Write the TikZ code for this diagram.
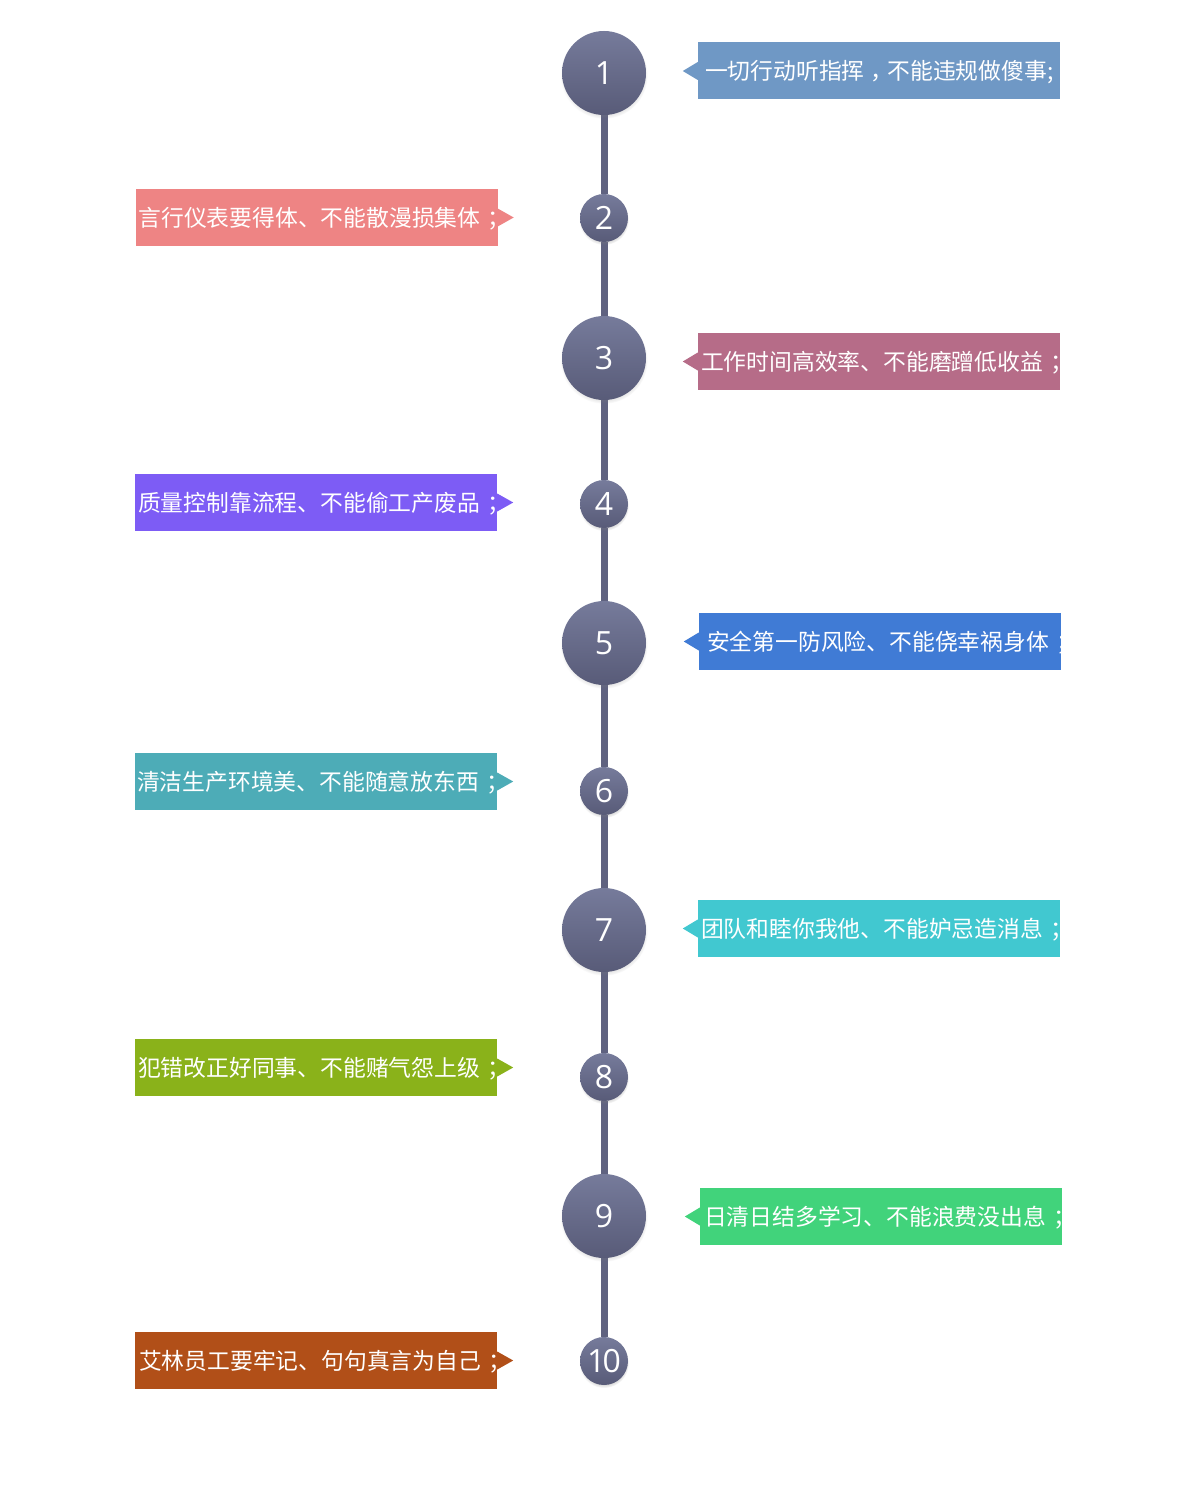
\documentclass[tikz,border=0pt]{standalone}
\usepackage{fontspec}
\newfontfamily\cjk{Noto Sans CJK SC}
\newfontfamily\numf{Open Sans}
\usetikzlibrary{shadows,calc}
\pgfdeclarelayer{bg}
\pgfsetlayers{bg,main}
\definecolor{k1}{HTML}{6F98C5}
\definecolor{k2}{HTML}{EE8484}
\definecolor{k3}{HTML}{B66C88}
\definecolor{k4}{HTML}{7D5CF5}
\definecolor{k5}{HTML}{407BD5}
\definecolor{k6}{HTML}{4DACB7}
\definecolor{k7}{HTML}{41C8D0}
\definecolor{k8}{HTML}{8AB21A}
\definecolor{k9}{HTML}{41D37B}
\definecolor{k10}{HTML}{B14F18}
\definecolor{cTop}{HTML}{767B9B}
\definecolor{cBot}{HTML}{585B78}
\definecolor{spinec}{HTML}{5F6280}
\newcommand{\mysemi}{\hspace{7pt}；}
\begin{document}
\begin{tikzpicture}[x=1pt,y=-1pt,
  numc/.style={circle, inner sep=0pt, draw=none, top color=cTop, bottom color=cBot,
    circular drop shadow={shadow xshift=0pt, shadow yshift=-2pt, opacity=0.3, shadow scale=1.04},
    text=white, font=\numf\fontsize{32}{36}\selectfont},
  bigc/.style={numc, minimum size=84pt},
  smallc/.style={numc, minimum size=48pt},
  rbox/.style={rectangle, draw=none, inner sep=0pt, minimum width=362pt, minimum height=57pt},
  btext/.style={anchor=west, inner sep=0pt, text=white, font=\cjk\fontsize{22.8}{26}\selectfont},
  spine/.style={draw=spinec, line width=7pt}
]
\begin{pgfonlayer}{bg}
\fill[white] (0,0) rectangle (1200,1498);
\end{pgfonlayer}
\useasboundingbox (0,0) rectangle (1200,1498);

% circles
\node[bigc]   (c1)  at (604,73)   {1};
\node[smallc] (c2)  at (604,218)  {2};
\node[bigc]   (c3)  at (604,358)  {3};
\node[smallc] (c4)  at (604,504)  {4};
\node[bigc]   (c5)  at (604,643)  {5};
\node[smallc] (c6)  at (604,791)  {6};
\node[bigc]   (c7)  at (604,930)  {7};
\node[smallc] (c8)  at (604,1077) {8};
\node[bigc]   (c9)  at (604,1216) {9};
\node[smallc] (c10) at (604,1361) {1\kern-3pt0};

\begin{pgfonlayer}{bg}
\draw[spine] (c1) -- (c2) -- (c3) -- (c4) -- (c5) -- (c6) -- (c7) -- (c8) -- (c9) -- (c10);
\end{pgfonlayer}

% right boxes
\node[rbox, fill=k1] (b1) at (879,71) {};
\fill[k1] ($(b1.west)+(0,-9)$) -- ($(b1.west)+(-15,0)$) -- ($(b1.west)+(0,9)$) -- cycle;
\begin{scope}\clip (b1.north west) rectangle (b1.south east);
\node[btext] (t1) at ($(b1.west)+(7,1.5)$) {一切行动听指挥\hspace{6pt}，\hspace{-6pt}不能违规做傻事;};
\end{scope}

\node[rbox, fill=k3] (b3) at (879,361.5) {};
\fill[k3] ($(b3.west)+(0,-9)$) -- ($(b3.west)+(-15,0)$) -- ($(b3.west)+(0,9)$) -- cycle;
\begin{scope}\clip (b3.north west) rectangle (b3.south east);
\node[btext] (t3) at ($(b3.west)+(3,1.5)$) {工作时间高效率、不能磨蹭低收益\mysemi};
\end{scope}

\node[rbox, fill=k5] (b5) at (880,641.5) {};
\fill[k5] ($(b5.west)+(0,-9)$) -- ($(b5.west)+(-15,0)$) -- ($(b5.west)+(0,9)$) -- cycle;
\begin{scope}\clip (b5.north west) rectangle (b5.south east);
\node[btext] (t5) at ($(b5.west)+(8,1.5)$) {安全第一防风险、不能侥幸祸身体\mysemi};
\end{scope}

\node[rbox, fill=k7] (b7) at (879,928.5) {};
\fill[k7] ($(b7.west)+(0,-9)$) -- ($(b7.west)+(-15,0)$) -- ($(b7.west)+(0,9)$) -- cycle;
\begin{scope}\clip (b7.north west) rectangle (b7.south east);
\node[btext] (t7) at ($(b7.west)+(3,1.5)$) {团队和睦你我他、不能妒忌造消息\mysemi};
\end{scope}

\node[rbox, fill=k9] (b9) at (881,1216.5) {};
\fill[k9] ($(b9.west)+(0,-9)$) -- ($(b9.west)+(-15,0)$) -- ($(b9.west)+(0,9)$) -- cycle;
\begin{scope}\clip (b9.north west) rectangle (b9.south east);
\node[btext] (t9) at ($(b9.west)+(4,1.5)$) {日清日结多学习、不能浪费没出息\mysemi};
\end{scope}

% left boxes
\node[rbox, fill=k2] (b2) at (316.5,217.5) {};
\fill[k2] ($(b2.east)+(0,-9)$) -- ($(b2.east)+(16,0)$) -- ($(b2.east)+(0,9)$) -- cycle;
\node[btext] (t2) at ($(b2.west)+(3,1.5)$) {言行仪表要得体、不能散漫损集体\mysemi};

\node[rbox, fill=k4] (b4) at (316,502.5) {};
\fill[k4] ($(b4.east)+(0,-9)$) -- ($(b4.east)+(16,0)$) -- ($(b4.east)+(0,9)$) -- cycle;
\node[btext] (t4) at ($(b4.west)+(3,1.5)$) {质量控制靠流程、不能偷工产废品\mysemi};

\node[rbox, fill=k6] (b6) at (316,781.5) {};
\fill[k6] ($(b6.east)+(0,-9)$) -- ($(b6.east)+(16,0)$) -- ($(b6.east)+(0,9)$) -- cycle;
\node[btext] (t6) at ($(b6.west)+(2,1.5)$) {清洁生产环境美、不能随意放东西\mysemi};

\node[rbox, fill=k8] (b8) at (316,1067.5) {};
\fill[k8] ($(b8.east)+(0,-9)$) -- ($(b8.east)+(16,0)$) -- ($(b8.east)+(0,9)$) -- cycle;
\node[btext] (t8) at ($(b8.west)+(3,1.5)$) {犯错改正好同事、不能赌气怨上级\mysemi};

\node[rbox, fill=k10] (b10) at (316,1360.5) {};
\fill[k10] ($(b10.east)+(0,-9)$) -- ($(b10.east)+(16,0)$) -- ($(b10.east)+(0,9)$) -- cycle;
\node[btext] (t10) at ($(b10.west)+(4,1.5)$) {艾林员工要牢记、句句真言为自己\mysemi};
\end{tikzpicture}
\end{document}
